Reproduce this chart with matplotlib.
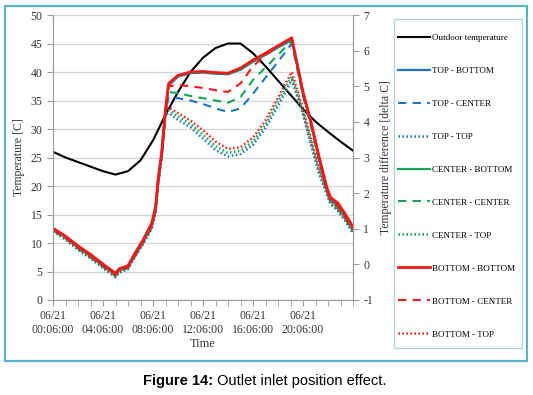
import matplotlib
matplotlib.use("Agg")
import matplotlib.pyplot as plt
from matplotlib.patches import Rectangle

plt.rcParams["font.family"] = ["Liberation Serif", "DejaVu Serif"]
plt.rcParams["axes.unicode_minus"] = False

# hours after 06/21 00:06:00
hours_out = [0, 1, 2, 3, 4, 5, 6, 7, 8, 9, 10, 11, 12, 13, 14, 15, 16, 17, 18, 19, 20, 21, 22, 23, 24]
outdoor = [26.0, 25.0, 24.2, 23.4, 22.6, 22.0, 22.6, 24.5, 28.0, 32.5, 36.5, 40.0, 42.5, 44.2,
           45.0, 45.0, 43.3, 41.0, 38.5, 36.0, 33.5, 31.3, 29.5, 27.8, 26.2]

hours = [0, 1, 2, 3, 4, 5, 5.3, 6, 6.5, 7.2, 7.9, 8.2, 8.4, 8.7, 9.0, 9.25, 10, 11, 12, 13, 14,
         15, 16, 17, 18, 19.1, 20, 20.6, 21.3, 21.9, 22.2, 22.8, 23.4, 24]

top_bottom = [12.4, 11.0, 9.2, 7.7, 6.0, 4.4, 5.2, 5.8, 7.7, 10.2, 13.0, 15.8, 20.5, 25.6, 33.0, 37.6,
              39.2, 39.8, 39.9, 39.7, 39.6, 40.4, 41.8, 43.0, 44.3, 45.6, 36.2, 31.3, 24.6, 19.4,
              17.6, 16.4, 14.6, 12.4]
top_center = [12.2, 10.8, 9.0, 7.5, 5.8, 4.2, 5.0, 5.6, 7.5, 10.0, 12.8, 15.5, 20.3, 25.4, 33.0, 35.5,
              35.4, 35.0, 34.4, 33.6, 33.0, 33.6, 36.2, 39.0, 41.8, 45.0, 35.8, 30.9, 24.2, 19.0,
              17.2, 16.0, 14.2, 12.0]
top_top = [12.0, 10.6, 8.8, 7.3, 5.6, 4.0, 4.8, 5.4, 7.3, 9.8, 12.5, 15.3, 20.0, 25.0, 32.5, 32.8,
           31.6, 30.3, 28.3, 26.3, 25.2, 25.6, 27.2, 30.2, 34.0, 38.6, 32.5, 27.5, 22.0, 18.6,
           16.8, 15.6, 13.8, 11.7]
center_bottom = [12.5, 11.1, 9.3, 7.8, 6.1, 4.5, 5.3, 5.9, 7.8, 10.3, 13.2, 16.0, 20.7, 25.8, 33.2, 37.8,
                 39.3, 39.9, 40.0, 39.8, 39.7, 40.5, 41.9, 43.1, 44.4, 45.8, 36.3, 31.4, 24.8, 19.6,
                 17.8, 16.8, 14.8, 12.6]
center_center = [12.3, 10.9, 9.1, 7.6, 5.9, 4.3, 5.1, 5.7, 7.6, 10.1, 12.9, 15.7, 20.4, 25.5, 33.0, 36.5,
                 36.3, 35.8, 35.4, 35.0, 34.6, 35.6, 38.6, 40.8, 43.0, 45.5, 36.0, 31.1, 24.4, 19.2,
                 17.4, 16.2, 14.4, 12.2]
center_top = [12.1, 10.7, 8.9, 7.4, 5.7, 4.1, 4.9, 5.5, 7.4, 9.9, 12.6, 15.4, 20.1, 25.2, 33.0, 33.3,
              32.2, 30.9, 29.0, 27.0, 25.8, 26.2, 27.8, 30.8, 34.8, 39.2, 33.0, 28.0, 22.5, 18.9,
              17.0, 15.8, 14.0, 11.9]
bottom_bottom = [12.6, 11.2, 9.5, 8.0, 6.3, 4.7, 5.5, 6.0, 8.0, 10.5, 13.5, 16.3, 21.0, 26.0, 33.5, 38.0,
                 39.4, 40.0, 40.1, 39.9, 39.8, 40.7, 42.1, 43.3, 44.6, 46.0, 36.5, 31.6, 25.0, 19.8,
                 18.0, 17.0, 15.0, 12.8]
bottom_center = [12.4, 11.0, 9.3, 7.8, 6.1, 4.5, 5.3, 5.8, 7.8, 10.3, 13.2, 16.0, 20.8, 25.8, 33.3, 37.5,
                 37.7, 37.5, 37.2, 36.8, 36.5, 38.0, 41.0, 43.0, 44.5, 46.0, 36.4, 31.5, 24.8, 19.6,
                 17.8, 16.6, 14.6, 12.4]
bottom_top = [12.3, 10.9, 9.1, 7.6, 5.9, 4.3, 5.1, 5.7, 7.6, 10.1, 13.0, 15.6, 20.4, 25.5, 33.5, 33.8,
              32.8, 31.5, 29.8, 27.8, 26.5, 26.8, 28.5, 31.5, 35.5, 40.0, 33.5, 28.5, 23.0, 19.2,
              17.4, 16.2, 14.4, 12.2]

tick_labels = ["06/21\n00:06:00", "06/21\n04:06:00", "06/21\n08:06:00",
               "06/21\n12:06:00", "06/21\n16:06:00", "06/21\n20:06:00"]

blue = "#1f74c2"
green = "#12a650"
red = "#f01a1a"
solid = "-"
dashed = (0, (4, 3))
dotted = (0, (0.6, 1.0))

fig = plt.figure(figsize=(5.33, 3.95), dpi=100)
ax = fig.add_axes([53 / 533, 1 - 300 / 395, 300 / 533, 285 / 395])

ax.plot(hours_out, outdoor, color="black", lw=1.5, label="Outdoor temperature")
series = [
    (top_bottom, blue, solid, 1.6, "TOP - BOTTOM"),
    (top_center, blue, dashed, 1.5, "TOP - CENTER"),
    (top_top, blue, dotted, 1.8, "TOP - TOP"),
    (center_bottom, green, solid, 1.6, "CENTER - BOTTOM"),
    (center_center, green, dashed, 1.5, "CENTER - CENTER"),
    (center_top, green, dotted, 1.8, "CENTER - TOP"),
    (bottom_bottom, red, solid, 2.0, "BOTTOM - BOTTOM"),
    (bottom_center, red, dashed, 1.5, "BOTTOM - CENTER"),
    (bottom_top, red, dotted, 1.8, "BOTTOM - TOP"),
]
for vals, c, ls, lw, lab in series:
    ax.plot(hours, vals, color=c, ls=ls, lw=lw, label=lab)

ax.set_xlim(0, 24)
ax.set_ylim(0, 50)
ax.set_yticks(range(0, 51, 5))
ax.set_xticks([0, 4, 8, 12, 16, 20])
ax.set_xticklabels(tick_labels)
ax.set_xticks(range(0, 25), minor=True)
ax.grid(axis="y", color="#d4d4d4", lw=0.9)
ax.set_axisbelow(True)
ax.spines["top"].set_visible(False)
for s in ["left", "right", "bottom"]:
    ax.spines[s].set_color("#9a9a9a")
ax.tick_params(axis="both", which="both", colors="#9a9a9a", labelcolor="#333333", labelsize=8.5, length=4)
ax.tick_params(axis="x", which="major", pad=3)
ax.set_xlabel("Time", fontsize=9, color="#333333", labelpad=2)
ax.set_ylabel("Temperature [C]", fontsize=8.5, color="#333333", labelpad=4)

ax2 = ax.twinx()
ax2.set_ylim(-1, 7)
ax2.set_yticks(range(-1, 8))
ax2.spines["top"].set_visible(False)
ax2.spines["right"].set_color("#9a9a9a")
ax2.spines["left"].set_visible(False)
ax2.spines["bottom"].set_visible(False)
ax2.tick_params(axis="y", colors="#9a9a9a", labelcolor="#333333", labelsize=8.5, length=4)
ax2.set_ylabel("Temperature difference [delta C]", fontsize=8.5, color="#333333", labelpad=5)

handles, labels = ax.get_legend_handles_labels()
fig.legend(handles, labels, loc="upper left", bbox_to_anchor=(398 / 533, 1 - 33.5 / 395),
           fontsize=6.5, labelspacing=2.73, handlelength=3.5, handletextpad=0.25,
           borderpad=0, borderaxespad=0, frameon=False)
fig.add_artist(Rectangle((394 / 533, 1 - 348 / 395), 128 / 533, 329 / 395, transform=fig.transFigure,
                         fill=False, edgecolor="#b7d3d8", lw=1.0))

fig.add_artist(Rectangle((5 / 533, 1 - 361 / 395), 522 / 533, 355 / 395, transform=fig.transFigure,
                         fill=False, edgecolor="#5ab3c4", lw=1.6))

fig.text(213 / 533, 1 - 381 / 395, "Figure 14:", ha="right", va="center", fontsize=10.5,
         fontweight="bold", family="Liberation Sans")
fig.text(217 / 533, 1 - 381 / 395, "Outlet inlet position effect.", ha="left", va="center", fontsize=10.5,
         family="Liberation Sans")

fig.savefig("out.png", dpi=100)
